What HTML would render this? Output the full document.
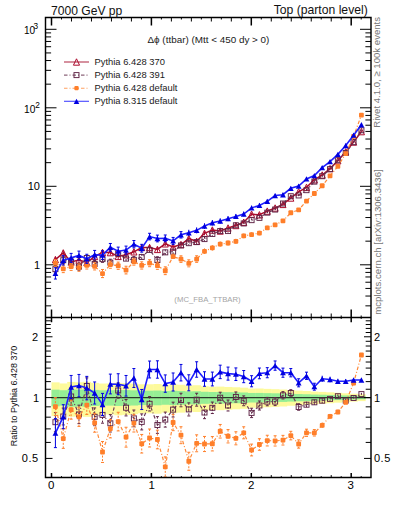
<!DOCTYPE html><html><head><meta charset="utf-8"><style>html,body{margin:0;padding:0;background:#fff}svg{display:block}text{font-family:"Liberation Sans",sans-serif}</style></head><body>
<svg width="393" height="512" viewBox="0 0 393 512">
<rect width="393" height="512" fill="#fff"/>
<g fill="#fdfa9c"><rect x="51.50" y="382.34" width="8.15" height="33.75"/><rect x="59.35" y="383.46" width="8.15" height="31.01"/><rect x="67.19" y="381.92" width="8.15" height="34.79"/><rect x="75.04" y="382.25" width="8.15" height="33.96"/><rect x="82.88" y="381.83" width="8.15" height="35.01"/><rect x="90.73" y="382.87" width="8.15" height="32.45"/><rect x="98.58" y="383.54" width="8.15" height="30.82"/><rect x="106.42" y="383.50" width="8.15" height="30.90"/><rect x="114.27" y="382.88" width="8.15" height="32.41"/><rect x="122.12" y="383.16" width="8.15" height="31.72"/><rect x="129.96" y="383.63" width="8.15" height="30.59"/><rect x="137.81" y="384.30" width="8.15" height="28.98"/><rect x="145.65" y="384.30" width="8.15" height="28.98"/><rect x="153.50" y="384.01" width="8.15" height="29.68"/><rect x="161.35" y="384.85" width="8.15" height="27.67"/><rect x="169.19" y="384.38" width="8.15" height="28.80"/><rect x="177.04" y="384.75" width="8.15" height="27.91"/><rect x="184.88" y="385.59" width="8.15" height="25.92"/><rect x="192.73" y="385.21" width="8.15" height="26.81"/><rect x="200.58" y="386.30" width="8.15" height="24.26"/><rect x="208.42" y="386.73" width="8.15" height="23.29"/><rect x="216.27" y="386.60" width="8.15" height="23.58"/><rect x="224.11" y="386.98" width="8.15" height="22.71"/><rect x="231.96" y="387.28" width="8.15" height="22.02"/><rect x="239.81" y="387.67" width="8.15" height="21.13"/><rect x="247.65" y="388.56" width="8.15" height="19.13"/><rect x="255.50" y="388.49" width="8.15" height="19.27"/><rect x="263.35" y="388.88" width="8.15" height="18.41"/><rect x="271.19" y="389.19" width="8.15" height="17.71"/><rect x="279.04" y="389.54" width="8.15" height="16.94"/><rect x="286.88" y="390.12" width="8.15" height="15.65"/><rect x="294.73" y="390.65" width="8.15" height="14.49"/><rect x="302.58" y="391.01" width="8.15" height="13.72"/><rect x="310.42" y="391.58" width="8.15" height="12.49"/><rect x="318.27" y="391.91" width="8.15" height="11.77"/><rect x="326.11" y="392.33" width="8.15" height="10.88"/><rect x="333.96" y="392.80" width="8.15" height="9.87"/><rect x="341.81" y="393.29" width="8.15" height="8.84"/><rect x="349.65" y="393.77" width="8.15" height="7.83"/><rect x="357.50" y="394.22" width="8.15" height="6.89"/></g>
<g fill="#95ee95"><rect x="51.50" y="389.64" width="8.15" height="16.72"/><rect x="59.35" y="390.24" width="8.15" height="15.39"/><rect x="67.19" y="389.41" width="8.15" height="17.22"/><rect x="75.04" y="389.59" width="8.15" height="16.82"/><rect x="82.88" y="389.36" width="8.15" height="17.33"/><rect x="90.73" y="389.92" width="8.15" height="16.09"/><rect x="98.58" y="390.29" width="8.15" height="15.29"/><rect x="106.42" y="390.27" width="8.15" height="15.33"/><rect x="114.27" y="389.93" width="8.15" height="16.07"/><rect x="122.12" y="390.09" width="8.15" height="15.73"/><rect x="129.96" y="390.34" width="8.15" height="15.18"/><rect x="137.81" y="390.70" width="8.15" height="14.39"/><rect x="145.65" y="390.70" width="8.15" height="14.39"/><rect x="153.50" y="390.54" width="8.15" height="14.73"/><rect x="161.35" y="391.00" width="8.15" height="13.75"/><rect x="169.19" y="390.74" width="8.15" height="14.30"/><rect x="177.04" y="390.94" width="8.15" height="13.87"/><rect x="184.88" y="391.39" width="8.15" height="12.89"/><rect x="192.73" y="391.19" width="8.15" height="13.33"/><rect x="200.58" y="391.77" width="8.15" height="12.07"/><rect x="208.42" y="392.00" width="8.15" height="11.59"/><rect x="216.27" y="391.93" width="8.15" height="11.74"/><rect x="224.11" y="392.13" width="8.15" height="11.31"/><rect x="231.96" y="392.29" width="8.15" height="10.96"/><rect x="239.81" y="392.49" width="8.15" height="10.53"/><rect x="247.65" y="392.96" width="8.15" height="9.54"/><rect x="255.50" y="392.93" width="8.15" height="9.61"/><rect x="263.35" y="393.13" width="8.15" height="9.18"/><rect x="271.19" y="393.29" width="8.15" height="8.83"/><rect x="279.04" y="393.48" width="8.15" height="8.45"/><rect x="286.88" y="393.78" width="8.15" height="7.81"/><rect x="294.73" y="394.06" width="8.15" height="7.23"/><rect x="302.58" y="394.24" width="8.15" height="6.85"/><rect x="310.42" y="394.54" width="8.15" height="6.24"/><rect x="318.27" y="394.71" width="8.15" height="5.88"/><rect x="326.11" y="394.92" width="8.15" height="5.43"/><rect x="333.96" y="395.17" width="8.15" height="4.93"/><rect x="341.81" y="395.42" width="8.15" height="4.42"/><rect x="349.65" y="395.66" width="8.15" height="3.92"/><rect x="357.50" y="395.89" width="8.15" height="3.44"/></g>
<line x1="51.5" y1="397.6" x2="371.0" y2="397.6" stroke="#2a3a2a" stroke-width="1.3"/>
<g stroke-linecap="butt"><line x1="51.50" y1="17.50" x2="51.50" y2="25.50" stroke="#000" stroke-width="1.5"/><line x1="51.50" y1="317.50" x2="51.50" y2="309.50" stroke="#000" stroke-width="1.5"/><line x1="51.50" y1="317.50" x2="51.50" y2="322.25" stroke="#000" stroke-width="1.5"/><line x1="51.50" y1="477.50" x2="51.50" y2="473.00" stroke="#000" stroke-width="1.5"/><line x1="61.49" y1="17.50" x2="61.49" y2="19.50" stroke="#000" stroke-width="1.0"/><line x1="61.49" y1="317.50" x2="61.49" y2="315.50" stroke="#000" stroke-width="1.0"/><line x1="61.49" y1="317.50" x2="61.49" y2="318.93" stroke="#000" stroke-width="1.0"/><line x1="61.49" y1="477.50" x2="61.49" y2="476.15" stroke="#000" stroke-width="1.0"/><line x1="71.48" y1="17.50" x2="71.48" y2="21.50" stroke="#000" stroke-width="1.0"/><line x1="71.48" y1="317.50" x2="71.48" y2="313.50" stroke="#000" stroke-width="1.0"/><line x1="71.48" y1="317.50" x2="71.48" y2="320.06" stroke="#000" stroke-width="1.0"/><line x1="71.48" y1="477.50" x2="71.48" y2="475.07" stroke="#000" stroke-width="1.0"/><line x1="81.47" y1="17.50" x2="81.47" y2="19.50" stroke="#000" stroke-width="1.0"/><line x1="81.47" y1="317.50" x2="81.47" y2="315.50" stroke="#000" stroke-width="1.0"/><line x1="81.47" y1="317.50" x2="81.47" y2="318.93" stroke="#000" stroke-width="1.0"/><line x1="81.47" y1="477.50" x2="81.47" y2="476.15" stroke="#000" stroke-width="1.0"/><line x1="91.46" y1="17.50" x2="91.46" y2="21.50" stroke="#000" stroke-width="1.0"/><line x1="91.46" y1="317.50" x2="91.46" y2="313.50" stroke="#000" stroke-width="1.0"/><line x1="91.46" y1="317.50" x2="91.46" y2="320.06" stroke="#000" stroke-width="1.0"/><line x1="91.46" y1="477.50" x2="91.46" y2="475.07" stroke="#000" stroke-width="1.0"/><line x1="101.45" y1="17.50" x2="101.45" y2="19.50" stroke="#000" stroke-width="1.0"/><line x1="101.45" y1="317.50" x2="101.45" y2="315.50" stroke="#000" stroke-width="1.0"/><line x1="101.45" y1="317.50" x2="101.45" y2="318.93" stroke="#000" stroke-width="1.0"/><line x1="101.45" y1="477.50" x2="101.45" y2="476.15" stroke="#000" stroke-width="1.0"/><line x1="111.44" y1="17.50" x2="111.44" y2="21.50" stroke="#000" stroke-width="1.0"/><line x1="111.44" y1="317.50" x2="111.44" y2="313.50" stroke="#000" stroke-width="1.0"/><line x1="111.44" y1="317.50" x2="111.44" y2="320.06" stroke="#000" stroke-width="1.0"/><line x1="111.44" y1="477.50" x2="111.44" y2="475.07" stroke="#000" stroke-width="1.0"/><line x1="121.43" y1="17.50" x2="121.43" y2="19.50" stroke="#000" stroke-width="1.0"/><line x1="121.43" y1="317.50" x2="121.43" y2="315.50" stroke="#000" stroke-width="1.0"/><line x1="121.43" y1="317.50" x2="121.43" y2="318.93" stroke="#000" stroke-width="1.0"/><line x1="121.43" y1="477.50" x2="121.43" y2="476.15" stroke="#000" stroke-width="1.0"/><line x1="131.42" y1="17.50" x2="131.42" y2="21.50" stroke="#000" stroke-width="1.0"/><line x1="131.42" y1="317.50" x2="131.42" y2="313.50" stroke="#000" stroke-width="1.0"/><line x1="131.42" y1="317.50" x2="131.42" y2="320.06" stroke="#000" stroke-width="1.0"/><line x1="131.42" y1="477.50" x2="131.42" y2="475.07" stroke="#000" stroke-width="1.0"/><line x1="141.41" y1="17.50" x2="141.41" y2="19.50" stroke="#000" stroke-width="1.0"/><line x1="141.41" y1="317.50" x2="141.41" y2="315.50" stroke="#000" stroke-width="1.0"/><line x1="141.41" y1="317.50" x2="141.41" y2="318.93" stroke="#000" stroke-width="1.0"/><line x1="141.41" y1="477.50" x2="141.41" y2="476.15" stroke="#000" stroke-width="1.0"/><line x1="151.40" y1="17.50" x2="151.40" y2="25.50" stroke="#000" stroke-width="1.5"/><line x1="151.40" y1="317.50" x2="151.40" y2="309.50" stroke="#000" stroke-width="1.5"/><line x1="151.40" y1="317.50" x2="151.40" y2="322.25" stroke="#000" stroke-width="1.5"/><line x1="151.40" y1="477.50" x2="151.40" y2="473.00" stroke="#000" stroke-width="1.5"/><line x1="161.39" y1="17.50" x2="161.39" y2="19.50" stroke="#000" stroke-width="1.0"/><line x1="161.39" y1="317.50" x2="161.39" y2="315.50" stroke="#000" stroke-width="1.0"/><line x1="161.39" y1="317.50" x2="161.39" y2="318.93" stroke="#000" stroke-width="1.0"/><line x1="161.39" y1="477.50" x2="161.39" y2="476.15" stroke="#000" stroke-width="1.0"/><line x1="171.38" y1="17.50" x2="171.38" y2="21.50" stroke="#000" stroke-width="1.0"/><line x1="171.38" y1="317.50" x2="171.38" y2="313.50" stroke="#000" stroke-width="1.0"/><line x1="171.38" y1="317.50" x2="171.38" y2="320.06" stroke="#000" stroke-width="1.0"/><line x1="171.38" y1="477.50" x2="171.38" y2="475.07" stroke="#000" stroke-width="1.0"/><line x1="181.37" y1="17.50" x2="181.37" y2="19.50" stroke="#000" stroke-width="1.0"/><line x1="181.37" y1="317.50" x2="181.37" y2="315.50" stroke="#000" stroke-width="1.0"/><line x1="181.37" y1="317.50" x2="181.37" y2="318.93" stroke="#000" stroke-width="1.0"/><line x1="181.37" y1="477.50" x2="181.37" y2="476.15" stroke="#000" stroke-width="1.0"/><line x1="191.36" y1="17.50" x2="191.36" y2="21.50" stroke="#000" stroke-width="1.0"/><line x1="191.36" y1="317.50" x2="191.36" y2="313.50" stroke="#000" stroke-width="1.0"/><line x1="191.36" y1="317.50" x2="191.36" y2="320.06" stroke="#000" stroke-width="1.0"/><line x1="191.36" y1="477.50" x2="191.36" y2="475.07" stroke="#000" stroke-width="1.0"/><line x1="201.35" y1="17.50" x2="201.35" y2="19.50" stroke="#000" stroke-width="1.0"/><line x1="201.35" y1="317.50" x2="201.35" y2="315.50" stroke="#000" stroke-width="1.0"/><line x1="201.35" y1="317.50" x2="201.35" y2="318.93" stroke="#000" stroke-width="1.0"/><line x1="201.35" y1="477.50" x2="201.35" y2="476.15" stroke="#000" stroke-width="1.0"/><line x1="211.34" y1="17.50" x2="211.34" y2="21.50" stroke="#000" stroke-width="1.0"/><line x1="211.34" y1="317.50" x2="211.34" y2="313.50" stroke="#000" stroke-width="1.0"/><line x1="211.34" y1="317.50" x2="211.34" y2="320.06" stroke="#000" stroke-width="1.0"/><line x1="211.34" y1="477.50" x2="211.34" y2="475.07" stroke="#000" stroke-width="1.0"/><line x1="221.33" y1="17.50" x2="221.33" y2="19.50" stroke="#000" stroke-width="1.0"/><line x1="221.33" y1="317.50" x2="221.33" y2="315.50" stroke="#000" stroke-width="1.0"/><line x1="221.33" y1="317.50" x2="221.33" y2="318.93" stroke="#000" stroke-width="1.0"/><line x1="221.33" y1="477.50" x2="221.33" y2="476.15" stroke="#000" stroke-width="1.0"/><line x1="231.32" y1="17.50" x2="231.32" y2="21.50" stroke="#000" stroke-width="1.0"/><line x1="231.32" y1="317.50" x2="231.32" y2="313.50" stroke="#000" stroke-width="1.0"/><line x1="231.32" y1="317.50" x2="231.32" y2="320.06" stroke="#000" stroke-width="1.0"/><line x1="231.32" y1="477.50" x2="231.32" y2="475.07" stroke="#000" stroke-width="1.0"/><line x1="241.31" y1="17.50" x2="241.31" y2="19.50" stroke="#000" stroke-width="1.0"/><line x1="241.31" y1="317.50" x2="241.31" y2="315.50" stroke="#000" stroke-width="1.0"/><line x1="241.31" y1="317.50" x2="241.31" y2="318.93" stroke="#000" stroke-width="1.0"/><line x1="241.31" y1="477.50" x2="241.31" y2="476.15" stroke="#000" stroke-width="1.0"/><line x1="251.30" y1="17.50" x2="251.30" y2="25.50" stroke="#000" stroke-width="1.5"/><line x1="251.30" y1="317.50" x2="251.30" y2="309.50" stroke="#000" stroke-width="1.5"/><line x1="251.30" y1="317.50" x2="251.30" y2="322.25" stroke="#000" stroke-width="1.5"/><line x1="251.30" y1="477.50" x2="251.30" y2="473.00" stroke="#000" stroke-width="1.5"/><line x1="261.29" y1="17.50" x2="261.29" y2="19.50" stroke="#000" stroke-width="1.0"/><line x1="261.29" y1="317.50" x2="261.29" y2="315.50" stroke="#000" stroke-width="1.0"/><line x1="261.29" y1="317.50" x2="261.29" y2="318.93" stroke="#000" stroke-width="1.0"/><line x1="261.29" y1="477.50" x2="261.29" y2="476.15" stroke="#000" stroke-width="1.0"/><line x1="271.28" y1="17.50" x2="271.28" y2="21.50" stroke="#000" stroke-width="1.0"/><line x1="271.28" y1="317.50" x2="271.28" y2="313.50" stroke="#000" stroke-width="1.0"/><line x1="271.28" y1="317.50" x2="271.28" y2="320.06" stroke="#000" stroke-width="1.0"/><line x1="271.28" y1="477.50" x2="271.28" y2="475.07" stroke="#000" stroke-width="1.0"/><line x1="281.27" y1="17.50" x2="281.27" y2="19.50" stroke="#000" stroke-width="1.0"/><line x1="281.27" y1="317.50" x2="281.27" y2="315.50" stroke="#000" stroke-width="1.0"/><line x1="281.27" y1="317.50" x2="281.27" y2="318.93" stroke="#000" stroke-width="1.0"/><line x1="281.27" y1="477.50" x2="281.27" y2="476.15" stroke="#000" stroke-width="1.0"/><line x1="291.26" y1="17.50" x2="291.26" y2="21.50" stroke="#000" stroke-width="1.0"/><line x1="291.26" y1="317.50" x2="291.26" y2="313.50" stroke="#000" stroke-width="1.0"/><line x1="291.26" y1="317.50" x2="291.26" y2="320.06" stroke="#000" stroke-width="1.0"/><line x1="291.26" y1="477.50" x2="291.26" y2="475.07" stroke="#000" stroke-width="1.0"/><line x1="301.25" y1="17.50" x2="301.25" y2="19.50" stroke="#000" stroke-width="1.0"/><line x1="301.25" y1="317.50" x2="301.25" y2="315.50" stroke="#000" stroke-width="1.0"/><line x1="301.25" y1="317.50" x2="301.25" y2="318.93" stroke="#000" stroke-width="1.0"/><line x1="301.25" y1="477.50" x2="301.25" y2="476.15" stroke="#000" stroke-width="1.0"/><line x1="311.24" y1="17.50" x2="311.24" y2="21.50" stroke="#000" stroke-width="1.0"/><line x1="311.24" y1="317.50" x2="311.24" y2="313.50" stroke="#000" stroke-width="1.0"/><line x1="311.24" y1="317.50" x2="311.24" y2="320.06" stroke="#000" stroke-width="1.0"/><line x1="311.24" y1="477.50" x2="311.24" y2="475.07" stroke="#000" stroke-width="1.0"/><line x1="321.23" y1="17.50" x2="321.23" y2="19.50" stroke="#000" stroke-width="1.0"/><line x1="321.23" y1="317.50" x2="321.23" y2="315.50" stroke="#000" stroke-width="1.0"/><line x1="321.23" y1="317.50" x2="321.23" y2="318.93" stroke="#000" stroke-width="1.0"/><line x1="321.23" y1="477.50" x2="321.23" y2="476.15" stroke="#000" stroke-width="1.0"/><line x1="331.22" y1="17.50" x2="331.22" y2="21.50" stroke="#000" stroke-width="1.0"/><line x1="331.22" y1="317.50" x2="331.22" y2="313.50" stroke="#000" stroke-width="1.0"/><line x1="331.22" y1="317.50" x2="331.22" y2="320.06" stroke="#000" stroke-width="1.0"/><line x1="331.22" y1="477.50" x2="331.22" y2="475.07" stroke="#000" stroke-width="1.0"/><line x1="341.21" y1="17.50" x2="341.21" y2="19.50" stroke="#000" stroke-width="1.0"/><line x1="341.21" y1="317.50" x2="341.21" y2="315.50" stroke="#000" stroke-width="1.0"/><line x1="341.21" y1="317.50" x2="341.21" y2="318.93" stroke="#000" stroke-width="1.0"/><line x1="341.21" y1="477.50" x2="341.21" y2="476.15" stroke="#000" stroke-width="1.0"/><line x1="351.20" y1="17.50" x2="351.20" y2="25.50" stroke="#000" stroke-width="1.5"/><line x1="351.20" y1="317.50" x2="351.20" y2="309.50" stroke="#000" stroke-width="1.5"/><line x1="351.20" y1="317.50" x2="351.20" y2="322.25" stroke="#000" stroke-width="1.5"/><line x1="351.20" y1="477.50" x2="351.20" y2="473.00" stroke="#000" stroke-width="1.5"/><line x1="361.19" y1="17.50" x2="361.19" y2="19.50" stroke="#000" stroke-width="1.0"/><line x1="361.19" y1="317.50" x2="361.19" y2="315.50" stroke="#000" stroke-width="1.0"/><line x1="361.19" y1="317.50" x2="361.19" y2="318.93" stroke="#000" stroke-width="1.0"/><line x1="361.19" y1="477.50" x2="361.19" y2="476.15" stroke="#000" stroke-width="1.0"/><line x1="45.50" y1="305.85" x2="51.10" y2="305.85" stroke="#000" stroke-width="1.0"/><line x1="371.00" y1="305.85" x2="365.40" y2="305.85" stroke="#000" stroke-width="1.0"/><line x1="45.50" y1="296.04" x2="51.10" y2="296.04" stroke="#000" stroke-width="1.0"/><line x1="371.00" y1="296.04" x2="365.40" y2="296.04" stroke="#000" stroke-width="1.0"/><line x1="45.50" y1="288.43" x2="51.10" y2="288.43" stroke="#000" stroke-width="1.0"/><line x1="371.00" y1="288.43" x2="365.40" y2="288.43" stroke="#000" stroke-width="1.0"/><line x1="45.50" y1="282.22" x2="51.10" y2="282.22" stroke="#000" stroke-width="1.0"/><line x1="371.00" y1="282.22" x2="365.40" y2="282.22" stroke="#000" stroke-width="1.0"/><line x1="45.50" y1="276.96" x2="51.10" y2="276.96" stroke="#000" stroke-width="1.0"/><line x1="371.00" y1="276.96" x2="365.40" y2="276.96" stroke="#000" stroke-width="1.0"/><line x1="45.50" y1="272.41" x2="51.10" y2="272.41" stroke="#000" stroke-width="1.0"/><line x1="371.00" y1="272.41" x2="365.40" y2="272.41" stroke="#000" stroke-width="1.0"/><line x1="45.50" y1="268.39" x2="51.10" y2="268.39" stroke="#000" stroke-width="1.0"/><line x1="371.00" y1="268.39" x2="365.40" y2="268.39" stroke="#000" stroke-width="1.0"/><line x1="45.50" y1="264.80" x2="56.50" y2="264.80" stroke="#000" stroke-width="1.0"/><line x1="371.00" y1="264.80" x2="360.00" y2="264.80" stroke="#000" stroke-width="1.0"/><line x1="45.50" y1="241.17" x2="51.10" y2="241.17" stroke="#000" stroke-width="1.0"/><line x1="371.00" y1="241.17" x2="365.40" y2="241.17" stroke="#000" stroke-width="1.0"/><line x1="45.50" y1="227.35" x2="51.10" y2="227.35" stroke="#000" stroke-width="1.0"/><line x1="371.00" y1="227.35" x2="365.40" y2="227.35" stroke="#000" stroke-width="1.0"/><line x1="45.50" y1="217.54" x2="51.10" y2="217.54" stroke="#000" stroke-width="1.0"/><line x1="371.00" y1="217.54" x2="365.40" y2="217.54" stroke="#000" stroke-width="1.0"/><line x1="45.50" y1="209.93" x2="51.10" y2="209.93" stroke="#000" stroke-width="1.0"/><line x1="371.00" y1="209.93" x2="365.40" y2="209.93" stroke="#000" stroke-width="1.0"/><line x1="45.50" y1="203.72" x2="51.10" y2="203.72" stroke="#000" stroke-width="1.0"/><line x1="371.00" y1="203.72" x2="365.40" y2="203.72" stroke="#000" stroke-width="1.0"/><line x1="45.50" y1="198.46" x2="51.10" y2="198.46" stroke="#000" stroke-width="1.0"/><line x1="371.00" y1="198.46" x2="365.40" y2="198.46" stroke="#000" stroke-width="1.0"/><line x1="45.50" y1="193.91" x2="51.10" y2="193.91" stroke="#000" stroke-width="1.0"/><line x1="371.00" y1="193.91" x2="365.40" y2="193.91" stroke="#000" stroke-width="1.0"/><line x1="45.50" y1="189.89" x2="51.10" y2="189.89" stroke="#000" stroke-width="1.0"/><line x1="371.00" y1="189.89" x2="365.40" y2="189.89" stroke="#000" stroke-width="1.0"/><line x1="45.50" y1="186.30" x2="56.50" y2="186.30" stroke="#000" stroke-width="1.0"/><line x1="371.00" y1="186.30" x2="360.00" y2="186.30" stroke="#000" stroke-width="1.0"/><line x1="45.50" y1="162.67" x2="51.10" y2="162.67" stroke="#000" stroke-width="1.0"/><line x1="371.00" y1="162.67" x2="365.40" y2="162.67" stroke="#000" stroke-width="1.0"/><line x1="45.50" y1="148.85" x2="51.10" y2="148.85" stroke="#000" stroke-width="1.0"/><line x1="371.00" y1="148.85" x2="365.40" y2="148.85" stroke="#000" stroke-width="1.0"/><line x1="45.50" y1="139.04" x2="51.10" y2="139.04" stroke="#000" stroke-width="1.0"/><line x1="371.00" y1="139.04" x2="365.40" y2="139.04" stroke="#000" stroke-width="1.0"/><line x1="45.50" y1="131.43" x2="51.10" y2="131.43" stroke="#000" stroke-width="1.0"/><line x1="371.00" y1="131.43" x2="365.40" y2="131.43" stroke="#000" stroke-width="1.0"/><line x1="45.50" y1="125.22" x2="51.10" y2="125.22" stroke="#000" stroke-width="1.0"/><line x1="371.00" y1="125.22" x2="365.40" y2="125.22" stroke="#000" stroke-width="1.0"/><line x1="45.50" y1="119.96" x2="51.10" y2="119.96" stroke="#000" stroke-width="1.0"/><line x1="371.00" y1="119.96" x2="365.40" y2="119.96" stroke="#000" stroke-width="1.0"/><line x1="45.50" y1="115.41" x2="51.10" y2="115.41" stroke="#000" stroke-width="1.0"/><line x1="371.00" y1="115.41" x2="365.40" y2="115.41" stroke="#000" stroke-width="1.0"/><line x1="45.50" y1="111.39" x2="51.10" y2="111.39" stroke="#000" stroke-width="1.0"/><line x1="371.00" y1="111.39" x2="365.40" y2="111.39" stroke="#000" stroke-width="1.0"/><line x1="45.50" y1="107.80" x2="56.50" y2="107.80" stroke="#000" stroke-width="1.0"/><line x1="371.00" y1="107.80" x2="360.00" y2="107.80" stroke="#000" stroke-width="1.0"/><line x1="45.50" y1="84.17" x2="51.10" y2="84.17" stroke="#000" stroke-width="1.0"/><line x1="371.00" y1="84.17" x2="365.40" y2="84.17" stroke="#000" stroke-width="1.0"/><line x1="45.50" y1="70.35" x2="51.10" y2="70.35" stroke="#000" stroke-width="1.0"/><line x1="371.00" y1="70.35" x2="365.40" y2="70.35" stroke="#000" stroke-width="1.0"/><line x1="45.50" y1="60.54" x2="51.10" y2="60.54" stroke="#000" stroke-width="1.0"/><line x1="371.00" y1="60.54" x2="365.40" y2="60.54" stroke="#000" stroke-width="1.0"/><line x1="45.50" y1="52.93" x2="51.10" y2="52.93" stroke="#000" stroke-width="1.0"/><line x1="371.00" y1="52.93" x2="365.40" y2="52.93" stroke="#000" stroke-width="1.0"/><line x1="45.50" y1="46.72" x2="51.10" y2="46.72" stroke="#000" stroke-width="1.0"/><line x1="371.00" y1="46.72" x2="365.40" y2="46.72" stroke="#000" stroke-width="1.0"/><line x1="45.50" y1="41.46" x2="51.10" y2="41.46" stroke="#000" stroke-width="1.0"/><line x1="371.00" y1="41.46" x2="365.40" y2="41.46" stroke="#000" stroke-width="1.0"/><line x1="45.50" y1="36.91" x2="51.10" y2="36.91" stroke="#000" stroke-width="1.0"/><line x1="371.00" y1="36.91" x2="365.40" y2="36.91" stroke="#000" stroke-width="1.0"/><line x1="45.50" y1="32.89" x2="51.10" y2="32.89" stroke="#000" stroke-width="1.0"/><line x1="371.00" y1="32.89" x2="365.40" y2="32.89" stroke="#000" stroke-width="1.0"/><line x1="45.50" y1="29.30" x2="56.50" y2="29.30" stroke="#000" stroke-width="1.0"/><line x1="371.00" y1="29.30" x2="360.00" y2="29.30" stroke="#000" stroke-width="1.0"/><line x1="45.50" y1="458.41" x2="52.50" y2="458.41" stroke="#000" stroke-width="1.0"/><line x1="371.00" y1="458.41" x2="364.00" y2="458.41" stroke="#000" stroke-width="1.0"/><line x1="45.50" y1="442.41" x2="50.80" y2="442.41" stroke="#000" stroke-width="1.0"/><line x1="371.00" y1="442.41" x2="365.70" y2="442.41" stroke="#000" stroke-width="1.0"/><line x1="45.50" y1="428.89" x2="50.80" y2="428.89" stroke="#000" stroke-width="1.0"/><line x1="371.00" y1="428.89" x2="365.70" y2="428.89" stroke="#000" stroke-width="1.0"/><line x1="45.50" y1="417.18" x2="50.80" y2="417.18" stroke="#000" stroke-width="1.0"/><line x1="371.00" y1="417.18" x2="365.70" y2="417.18" stroke="#000" stroke-width="1.0"/><line x1="45.50" y1="406.84" x2="50.80" y2="406.84" stroke="#000" stroke-width="1.0"/><line x1="371.00" y1="406.84" x2="365.70" y2="406.84" stroke="#000" stroke-width="1.0"/><line x1="45.50" y1="397.60" x2="52.50" y2="397.60" stroke="#000" stroke-width="1.0"/><line x1="371.00" y1="397.60" x2="364.00" y2="397.60" stroke="#000" stroke-width="1.0"/><line x1="45.50" y1="389.24" x2="50.80" y2="389.24" stroke="#000" stroke-width="1.0"/><line x1="371.00" y1="389.24" x2="365.70" y2="389.24" stroke="#000" stroke-width="1.0"/><line x1="45.50" y1="381.61" x2="50.80" y2="381.61" stroke="#000" stroke-width="1.0"/><line x1="371.00" y1="381.61" x2="365.70" y2="381.61" stroke="#000" stroke-width="1.0"/><line x1="45.50" y1="374.58" x2="50.80" y2="374.58" stroke="#000" stroke-width="1.0"/><line x1="371.00" y1="374.58" x2="365.70" y2="374.58" stroke="#000" stroke-width="1.0"/><line x1="45.50" y1="368.08" x2="50.80" y2="368.08" stroke="#000" stroke-width="1.0"/><line x1="371.00" y1="368.08" x2="365.70" y2="368.08" stroke="#000" stroke-width="1.0"/><line x1="45.50" y1="362.03" x2="50.80" y2="362.03" stroke="#000" stroke-width="1.0"/><line x1="371.00" y1="362.03" x2="365.70" y2="362.03" stroke="#000" stroke-width="1.0"/><line x1="45.50" y1="356.37" x2="50.80" y2="356.37" stroke="#000" stroke-width="1.0"/><line x1="371.00" y1="356.37" x2="365.70" y2="356.37" stroke="#000" stroke-width="1.0"/><line x1="45.50" y1="351.05" x2="50.80" y2="351.05" stroke="#000" stroke-width="1.0"/><line x1="371.00" y1="351.05" x2="365.70" y2="351.05" stroke="#000" stroke-width="1.0"/><line x1="45.50" y1="346.03" x2="50.80" y2="346.03" stroke="#000" stroke-width="1.0"/><line x1="371.00" y1="346.03" x2="365.70" y2="346.03" stroke="#000" stroke-width="1.0"/><line x1="45.50" y1="341.29" x2="50.80" y2="341.29" stroke="#000" stroke-width="1.0"/><line x1="371.00" y1="341.29" x2="365.70" y2="341.29" stroke="#000" stroke-width="1.0"/><line x1="45.50" y1="336.79" x2="52.50" y2="336.79" stroke="#000" stroke-width="1.0"/><line x1="371.00" y1="336.79" x2="364.00" y2="336.79" stroke="#000" stroke-width="1.0"/><line x1="45.50" y1="332.51" x2="50.80" y2="332.51" stroke="#000" stroke-width="1.0"/><line x1="371.00" y1="332.51" x2="365.70" y2="332.51" stroke="#000" stroke-width="1.0"/><line x1="45.50" y1="328.43" x2="50.80" y2="328.43" stroke="#000" stroke-width="1.0"/><line x1="371.00" y1="328.43" x2="365.70" y2="328.43" stroke="#000" stroke-width="1.0"/><line x1="45.50" y1="324.53" x2="50.80" y2="324.53" stroke="#000" stroke-width="1.0"/><line x1="371.00" y1="324.53" x2="365.70" y2="324.53" stroke="#000" stroke-width="1.0"/><line x1="45.50" y1="320.80" x2="50.80" y2="320.80" stroke="#000" stroke-width="1.0"/><line x1="371.00" y1="320.80" x2="365.70" y2="320.80" stroke="#000" stroke-width="1.0"/></g>
<svg x="0" y="0" width="393" height="512"><clipPath id="cu"><rect x="46" y="18" width="325" height="299"/></clipPath><clipPath id="cr"><rect x="46" y="318" width="325" height="159"/></clipPath>
<g clip-path="url(#cu)">
<polyline points="55.42,259.60 63.27,252.90 71.12,262.00 78.96,260.10 86.81,262.50 94.65,256.50 102.50,252.40 110.35,252.60 118.19,256.40 126.04,254.70 133.88,251.80 141.73,247.50 149.58,247.50 157.42,249.40 165.27,243.80 173.11,247.00 180.96,244.50 188.81,238.60 196.65,241.30 204.50,233.30 212.35,230.00 220.19,231.00 228.04,228.00 235.88,225.50 243.73,222.20 251.58,214.20 259.42,214.80 267.27,211.10 275.11,208.00 282.96,204.40 290.81,198.00 298.65,191.80 306.50,187.40 314.35,179.80 322.19,175.00 330.04,168.60 337.88,160.70 345.73,151.80 353.58,142.00 361.42,131.60" fill="none" stroke="#a8102e" stroke-width="1.5"/><path d="M55.42 256.65V262.55M63.27 250.22V255.58M71.12 258.94V265.06M78.96 257.13V263.07M86.81 259.42V265.58M94.65 253.68V259.32M102.50 249.74V255.06M110.35 249.94V255.26M118.19 253.58V259.22M126.04 251.95V257.45M133.88 249.17V254.43M141.73 245.03V249.97M149.58 245.03V249.97M157.42 246.86V251.94M165.27 241.46V246.14M173.11 244.55V249.45M180.96 242.13V246.87M188.81 236.43V240.77M196.65 239.04V243.56M204.50 231.29V235.31M212.35 228.09V231.91M220.19 229.06V232.94M228.04 226.14V229.86M235.88 223.71V227.29M243.73 220.49V223.91M251.58 212.68V215.72M259.42 213.27V216.33M267.27 209.65V212.55M275.11 206.61V209.39M282.96 203.09V205.71M290.81 196.80V199.20M298.65 190.71V192.89M306.50 186.38V188.42M314.35 178.88V180.72M322.19 174.15V175.85M330.04 167.82V169.38M337.88 160.01V161.39M345.73 151.19V152.41M353.58 141.47V142.53M361.42 131.15V132.05" stroke="#ac0a2c" stroke-width="1.0" fill="none"/><path d="" stroke="#ac0a2c" stroke-width="1.0" fill="none"/><polygon points="55.42,256.40 58.47,262.80 52.37,262.80" fill="none" stroke="#ac0a2c" stroke-width="1"/><polygon points="63.27,249.70 66.32,256.10 60.22,256.10" fill="none" stroke="#ac0a2c" stroke-width="1"/><polygon points="71.12,258.80 74.17,265.20 68.07,265.20" fill="none" stroke="#ac0a2c" stroke-width="1"/><polygon points="78.96,256.90 82.01,263.30 75.91,263.30" fill="none" stroke="#ac0a2c" stroke-width="1"/><polygon points="86.81,259.30 89.86,265.70 83.76,265.70" fill="none" stroke="#ac0a2c" stroke-width="1"/><polygon points="94.65,253.30 97.70,259.70 91.60,259.70" fill="none" stroke="#ac0a2c" stroke-width="1"/><polygon points="102.50,249.20 105.55,255.60 99.45,255.60" fill="none" stroke="#ac0a2c" stroke-width="1"/><polygon points="110.35,249.40 113.40,255.80 107.30,255.80" fill="none" stroke="#ac0a2c" stroke-width="1"/><polygon points="118.19,253.20 121.24,259.60 115.14,259.60" fill="none" stroke="#ac0a2c" stroke-width="1"/><polygon points="126.04,251.50 129.09,257.90 122.99,257.90" fill="none" stroke="#ac0a2c" stroke-width="1"/><polygon points="133.88,248.60 136.93,255.00 130.83,255.00" fill="none" stroke="#ac0a2c" stroke-width="1"/><polygon points="141.73,244.30 144.78,250.70 138.68,250.70" fill="none" stroke="#ac0a2c" stroke-width="1"/><polygon points="149.58,244.30 152.63,250.70 146.53,250.70" fill="none" stroke="#ac0a2c" stroke-width="1"/><polygon points="157.42,246.20 160.47,252.60 154.37,252.60" fill="none" stroke="#ac0a2c" stroke-width="1"/><polygon points="165.27,240.60 168.32,247.00 162.22,247.00" fill="none" stroke="#ac0a2c" stroke-width="1"/><polygon points="173.11,243.80 176.16,250.20 170.06,250.20" fill="none" stroke="#ac0a2c" stroke-width="1"/><polygon points="180.96,241.30 184.01,247.70 177.91,247.70" fill="none" stroke="#ac0a2c" stroke-width="1"/><polygon points="188.81,235.40 191.86,241.80 185.76,241.80" fill="none" stroke="#ac0a2c" stroke-width="1"/><polygon points="196.65,238.10 199.70,244.50 193.60,244.50" fill="none" stroke="#ac0a2c" stroke-width="1"/><polygon points="204.50,230.10 207.55,236.50 201.45,236.50" fill="none" stroke="#ac0a2c" stroke-width="1"/><polygon points="212.35,226.80 215.40,233.20 209.30,233.20" fill="none" stroke="#ac0a2c" stroke-width="1"/><polygon points="220.19,227.80 223.24,234.20 217.14,234.20" fill="none" stroke="#ac0a2c" stroke-width="1"/><polygon points="228.04,224.80 231.09,231.20 224.99,231.20" fill="none" stroke="#ac0a2c" stroke-width="1"/><polygon points="235.88,222.30 238.93,228.70 232.83,228.70" fill="none" stroke="#ac0a2c" stroke-width="1"/><polygon points="243.73,219.00 246.78,225.40 240.68,225.40" fill="none" stroke="#ac0a2c" stroke-width="1"/><polygon points="251.58,211.00 254.63,217.40 248.53,217.40" fill="none" stroke="#ac0a2c" stroke-width="1"/><polygon points="259.42,211.60 262.47,218.00 256.37,218.00" fill="none" stroke="#ac0a2c" stroke-width="1"/><polygon points="267.27,207.90 270.32,214.30 264.22,214.30" fill="none" stroke="#ac0a2c" stroke-width="1"/><polygon points="275.11,204.80 278.16,211.20 272.06,211.20" fill="none" stroke="#ac0a2c" stroke-width="1"/><polygon points="282.96,201.20 286.01,207.60 279.91,207.60" fill="none" stroke="#ac0a2c" stroke-width="1"/><polygon points="290.81,194.80 293.86,201.20 287.76,201.20" fill="none" stroke="#ac0a2c" stroke-width="1"/><polygon points="298.65,188.60 301.70,195.00 295.60,195.00" fill="none" stroke="#ac0a2c" stroke-width="1"/><polygon points="306.50,184.20 309.55,190.60 303.45,190.60" fill="none" stroke="#ac0a2c" stroke-width="1"/><polygon points="314.35,176.60 317.40,183.00 311.30,183.00" fill="none" stroke="#ac0a2c" stroke-width="1"/><polygon points="322.19,171.80 325.24,178.20 319.14,178.20" fill="none" stroke="#ac0a2c" stroke-width="1"/><polygon points="330.04,165.40 333.09,171.80 326.99,171.80" fill="none" stroke="#ac0a2c" stroke-width="1"/><polygon points="337.88,157.50 340.93,163.90 334.83,163.90" fill="none" stroke="#ac0a2c" stroke-width="1"/><polygon points="345.73,148.60 348.78,155.00 342.68,155.00" fill="none" stroke="#ac0a2c" stroke-width="1"/><polygon points="353.58,138.80 356.63,145.20 350.53,145.20" fill="none" stroke="#ac0a2c" stroke-width="1"/><polygon points="361.42,128.40 364.47,134.80 358.37,134.80" fill="none" stroke="#ac0a2c" stroke-width="1"/>
<polyline points="55.42,269.16 63.27,260.24 71.12,261.57 78.96,266.63 86.81,257.99 94.65,263.96 102.50,259.12 110.35,262.59 118.19,253.64 126.04,258.62 133.88,259.88 141.73,256.94 149.58,249.91 157.42,260.05 165.27,252.35 173.11,251.66 180.96,245.43 188.81,243.19 196.65,242.12 204.50,239.09 212.35,233.96 220.19,231.04 228.04,231.07 235.88,225.27 243.73,223.44 251.58,220.15 259.42,217.87 267.27,212.65 275.11,209.55 282.96,203.51 290.81,196.21 298.65,195.45 306.50,190.16 314.35,181.63 322.19,176.20 330.04,169.11 337.88,160.16 345.73,152.97 353.58,142.16 361.42,130.24" fill="none" stroke="#6e3c58" stroke-width="1.2" stroke-dasharray="3.5,2,1,2"/><path d="M55.42 265.43V272.89M63.27 256.97V263.52M71.12 258.24V264.91M78.96 263.04V270.22M86.81 254.83V261.16M94.65 260.51V267.42M102.50 255.90V262.34M110.35 259.20V265.97M118.19 250.67V256.61M126.04 255.43V261.82M133.88 256.63V263.14M141.73 253.83V260.06M149.58 247.10V252.72M157.42 256.79V263.31M165.27 249.44V255.26M173.11 248.78V254.55M180.96 242.80V248.07M188.81 240.64V245.73M196.65 239.61V244.62M204.50 236.69V241.49M212.35 231.74V236.19M220.19 228.91V233.17M228.04 228.94V233.20M235.88 223.31V227.23M243.73 221.54V225.35M251.58 218.33V221.96M259.42 216.11V219.63M267.27 211.03V214.28M275.11 208.00V211.11M282.96 202.08V204.93M290.81 194.93V197.49M298.65 194.19V196.72M306.50 188.99V191.33M314.35 180.59V182.66M322.19 175.25V177.16M330.04 168.25V169.96M337.88 159.40V160.91M345.73 152.29V153.64M353.58 141.58V142.73M361.42 129.75V130.73" stroke="#5f2446" stroke-width="1.0" fill="none" stroke-dasharray="2,1.5"/><path d="M53.92 265.43h3.0M53.92 272.89h3.0M61.77 256.97h3.0M61.77 263.52h3.0M69.62 258.24h3.0M69.62 264.91h3.0M77.46 263.04h3.0M77.46 270.22h3.0M93.15 260.51h3.0M93.15 267.42h3.0M101.00 255.90h3.0M101.00 262.34h3.0M108.85 259.20h3.0M108.85 265.97h3.0M132.38 256.63h3.0M132.38 263.14h3.0M155.92 256.79h3.0M155.92 263.31h3.0" stroke="#5f2446" stroke-width="1.0" fill="none"/><rect x="52.92" y="266.66" width="5" height="5" fill="none" stroke="#5f2446" stroke-width="0.95"/><rect x="60.77" y="257.74" width="5" height="5" fill="none" stroke="#5f2446" stroke-width="0.95"/><rect x="68.62" y="259.07" width="5" height="5" fill="none" stroke="#5f2446" stroke-width="0.95"/><rect x="76.46" y="264.13" width="5" height="5" fill="none" stroke="#5f2446" stroke-width="0.95"/><rect x="84.31" y="255.49" width="5" height="5" fill="none" stroke="#5f2446" stroke-width="0.95"/><rect x="92.15" y="261.46" width="5" height="5" fill="none" stroke="#5f2446" stroke-width="0.95"/><rect x="100.00" y="256.62" width="5" height="5" fill="none" stroke="#5f2446" stroke-width="0.95"/><rect x="107.85" y="260.09" width="5" height="5" fill="none" stroke="#5f2446" stroke-width="0.95"/><rect x="115.69" y="251.14" width="5" height="5" fill="none" stroke="#5f2446" stroke-width="0.95"/><rect x="123.54" y="256.12" width="5" height="5" fill="none" stroke="#5f2446" stroke-width="0.95"/><rect x="131.38" y="257.38" width="5" height="5" fill="none" stroke="#5f2446" stroke-width="0.95"/><rect x="139.23" y="254.44" width="5" height="5" fill="none" stroke="#5f2446" stroke-width="0.95"/><rect x="147.08" y="247.41" width="5" height="5" fill="none" stroke="#5f2446" stroke-width="0.95"/><rect x="154.92" y="257.55" width="5" height="5" fill="none" stroke="#5f2446" stroke-width="0.95"/><rect x="162.77" y="249.85" width="5" height="5" fill="none" stroke="#5f2446" stroke-width="0.95"/><rect x="170.61" y="249.16" width="5" height="5" fill="none" stroke="#5f2446" stroke-width="0.95"/><rect x="178.46" y="242.93" width="5" height="5" fill="none" stroke="#5f2446" stroke-width="0.95"/><rect x="186.31" y="240.69" width="5" height="5" fill="none" stroke="#5f2446" stroke-width="0.95"/><rect x="194.15" y="239.62" width="5" height="5" fill="none" stroke="#5f2446" stroke-width="0.95"/><rect x="202.00" y="236.59" width="5" height="5" fill="none" stroke="#5f2446" stroke-width="0.95"/><rect x="209.85" y="231.46" width="5" height="5" fill="none" stroke="#5f2446" stroke-width="0.95"/><rect x="217.69" y="228.54" width="5" height="5" fill="none" stroke="#5f2446" stroke-width="0.95"/><rect x="225.54" y="228.57" width="5" height="5" fill="none" stroke="#5f2446" stroke-width="0.95"/><rect x="233.38" y="222.77" width="5" height="5" fill="none" stroke="#5f2446" stroke-width="0.95"/><rect x="241.23" y="220.94" width="5" height="5" fill="none" stroke="#5f2446" stroke-width="0.95"/><rect x="249.08" y="217.65" width="5" height="5" fill="none" stroke="#5f2446" stroke-width="0.95"/><rect x="256.92" y="215.37" width="5" height="5" fill="none" stroke="#5f2446" stroke-width="0.95"/><rect x="264.77" y="210.15" width="5" height="5" fill="none" stroke="#5f2446" stroke-width="0.95"/><rect x="272.61" y="207.05" width="5" height="5" fill="none" stroke="#5f2446" stroke-width="0.95"/><rect x="280.46" y="201.01" width="5" height="5" fill="none" stroke="#5f2446" stroke-width="0.95"/><rect x="288.31" y="193.71" width="5" height="5" fill="none" stroke="#5f2446" stroke-width="0.95"/><rect x="296.15" y="192.95" width="5" height="5" fill="none" stroke="#5f2446" stroke-width="0.95"/><rect x="304.00" y="187.66" width="5" height="5" fill="none" stroke="#5f2446" stroke-width="0.95"/><rect x="311.85" y="179.13" width="5" height="5" fill="none" stroke="#5f2446" stroke-width="0.95"/><rect x="319.69" y="173.70" width="5" height="5" fill="none" stroke="#5f2446" stroke-width="0.95"/><rect x="327.54" y="166.61" width="5" height="5" fill="none" stroke="#5f2446" stroke-width="0.95"/><rect x="335.38" y="157.66" width="5" height="5" fill="none" stroke="#5f2446" stroke-width="0.95"/><rect x="343.23" y="150.47" width="5" height="5" fill="none" stroke="#5f2446" stroke-width="0.95"/><rect x="351.08" y="139.66" width="5" height="5" fill="none" stroke="#5f2446" stroke-width="0.95"/><rect x="358.92" y="127.74" width="5" height="5" fill="none" stroke="#5f2446" stroke-width="0.95"/>
<polyline points="55.42,263.10 63.27,268.83 71.12,266.70 78.96,267.56 86.81,265.41 94.65,266.29 102.50,273.54 110.35,264.69 118.19,265.73 126.04,270.09 133.88,261.75 141.73,265.43 149.58,263.20 157.42,265.68 165.27,270.73 173.11,256.68 180.96,259.11 188.81,263.34 196.65,259.06 204.50,251.33 212.35,247.93 220.19,244.08 228.04,243.02 235.88,241.32 243.73,235.88 251.58,234.56 259.42,233.03 267.27,227.81 275.11,224.83 282.96,220.95 290.81,212.77 298.65,209.83 306.50,201.08 314.35,193.48 322.19,185.76 330.04,175.91 337.88,166.30 345.73,153.67 353.58,136.33 361.42,115.05" fill="none" stroke="#ff8a3a" stroke-width="1.2" stroke-dasharray="3.5,2,1,2"/><path d="M55.42 259.61V266.58M63.27 265.04V272.63M71.12 263.03V270.38M78.96 263.84V271.28M86.81 261.81V269.02M94.65 262.64V269.95M102.50 269.48V277.60M110.35 261.12V268.26M118.19 262.10V269.35M126.04 266.23V273.95M133.88 258.33V265.17M141.73 261.83V269.04M149.58 259.71V266.69M157.42 262.06V269.30M165.27 266.83V274.63M173.11 253.50V259.85M180.96 255.82V262.40M188.81 259.84V266.83M196.65 255.77V262.35M204.50 248.40V254.27M212.35 245.14V250.73M220.19 241.44V246.72M228.04 240.42V245.62M235.88 238.78V243.85M243.73 233.54V238.22M251.58 232.27V236.86M259.42 230.78V235.27M267.27 225.73V229.89M275.11 222.84V226.82M282.96 219.08V222.83M290.81 211.10V214.43M298.65 208.24V211.43M306.50 199.67V202.48M314.35 192.22V194.74M322.19 184.64V186.89M330.04 174.94V176.88M337.88 165.45V167.14M345.73 152.96V154.37M353.58 135.78V136.87M361.42 114.65V115.44" stroke="#ff7f2a" stroke-width="1.0" fill="none" stroke-dasharray="2,1.5"/><path d="M53.92 259.61h3.0M53.92 266.58h3.0M61.77 265.04h3.0M61.77 272.63h3.0M69.62 263.03h3.0M69.62 270.38h3.0M77.46 263.84h3.0M77.46 271.28h3.0M85.31 261.81h3.0M85.31 269.02h3.0M93.15 262.64h3.0M93.15 269.95h3.0M101.00 269.48h3.0M101.00 277.60h3.0M108.85 261.12h3.0M108.85 268.26h3.0M116.69 262.10h3.0M116.69 269.35h3.0M124.54 266.23h3.0M124.54 273.95h3.0M132.38 258.33h3.0M132.38 265.17h3.0M140.23 261.83h3.0M140.23 269.04h3.0M148.08 259.71h3.0M148.08 266.69h3.0M155.92 262.06h3.0M155.92 269.30h3.0M163.77 266.83h3.0M163.77 274.63h3.0M179.46 255.82h3.0M179.46 262.40h3.0M187.31 259.84h3.0M187.31 266.83h3.0M195.15 255.77h3.0M195.15 262.35h3.0" stroke="#ff7f2a" stroke-width="1.0" fill="none"/><rect x="53.02" y="260.70" width="4.8" height="4.8" rx="1.0" fill="#ff7f2a"/><rect x="60.87" y="266.43" width="4.8" height="4.8" rx="1.0" fill="#ff7f2a"/><rect x="68.72" y="264.30" width="4.8" height="4.8" rx="1.0" fill="#ff7f2a"/><rect x="76.56" y="265.16" width="4.8" height="4.8" rx="1.0" fill="#ff7f2a"/><rect x="84.41" y="263.01" width="4.8" height="4.8" rx="1.0" fill="#ff7f2a"/><rect x="92.25" y="263.89" width="4.8" height="4.8" rx="1.0" fill="#ff7f2a"/><rect x="100.10" y="271.14" width="4.8" height="4.8" rx="1.0" fill="#ff7f2a"/><rect x="107.95" y="262.29" width="4.8" height="4.8" rx="1.0" fill="#ff7f2a"/><rect x="115.79" y="263.33" width="4.8" height="4.8" rx="1.0" fill="#ff7f2a"/><rect x="123.64" y="267.69" width="4.8" height="4.8" rx="1.0" fill="#ff7f2a"/><rect x="131.48" y="259.35" width="4.8" height="4.8" rx="1.0" fill="#ff7f2a"/><rect x="139.33" y="263.03" width="4.8" height="4.8" rx="1.0" fill="#ff7f2a"/><rect x="147.18" y="260.80" width="4.8" height="4.8" rx="1.0" fill="#ff7f2a"/><rect x="155.02" y="263.28" width="4.8" height="4.8" rx="1.0" fill="#ff7f2a"/><rect x="162.87" y="268.33" width="4.8" height="4.8" rx="1.0" fill="#ff7f2a"/><rect x="170.71" y="254.28" width="4.8" height="4.8" rx="1.0" fill="#ff7f2a"/><rect x="178.56" y="256.71" width="4.8" height="4.8" rx="1.0" fill="#ff7f2a"/><rect x="186.41" y="260.94" width="4.8" height="4.8" rx="1.0" fill="#ff7f2a"/><rect x="194.25" y="256.66" width="4.8" height="4.8" rx="1.0" fill="#ff7f2a"/><rect x="202.10" y="248.93" width="4.8" height="4.8" rx="1.0" fill="#ff7f2a"/><rect x="209.95" y="245.53" width="4.8" height="4.8" rx="1.0" fill="#ff7f2a"/><rect x="217.79" y="241.68" width="4.8" height="4.8" rx="1.0" fill="#ff7f2a"/><rect x="225.64" y="240.62" width="4.8" height="4.8" rx="1.0" fill="#ff7f2a"/><rect x="233.48" y="238.92" width="4.8" height="4.8" rx="1.0" fill="#ff7f2a"/><rect x="241.33" y="233.48" width="4.8" height="4.8" rx="1.0" fill="#ff7f2a"/><rect x="249.18" y="232.16" width="4.8" height="4.8" rx="1.0" fill="#ff7f2a"/><rect x="257.02" y="230.63" width="4.8" height="4.8" rx="1.0" fill="#ff7f2a"/><rect x="264.87" y="225.41" width="4.8" height="4.8" rx="1.0" fill="#ff7f2a"/><rect x="272.71" y="222.43" width="4.8" height="4.8" rx="1.0" fill="#ff7f2a"/><rect x="280.56" y="218.55" width="4.8" height="4.8" rx="1.0" fill="#ff7f2a"/><rect x="288.41" y="210.37" width="4.8" height="4.8" rx="1.0" fill="#ff7f2a"/><rect x="296.25" y="207.43" width="4.8" height="4.8" rx="1.0" fill="#ff7f2a"/><rect x="304.10" y="198.68" width="4.8" height="4.8" rx="1.0" fill="#ff7f2a"/><rect x="311.95" y="191.08" width="4.8" height="4.8" rx="1.0" fill="#ff7f2a"/><rect x="319.79" y="183.36" width="4.8" height="4.8" rx="1.0" fill="#ff7f2a"/><rect x="327.64" y="173.51" width="4.8" height="4.8" rx="1.0" fill="#ff7f2a"/><rect x="335.48" y="163.90" width="4.8" height="4.8" rx="1.0" fill="#ff7f2a"/><rect x="343.33" y="151.27" width="4.8" height="4.8" rx="1.0" fill="#ff7f2a"/><rect x="351.18" y="133.93" width="4.8" height="4.8" rx="1.0" fill="#ff7f2a"/><rect x="359.02" y="112.65" width="4.8" height="4.8" rx="1.0" fill="#ff7f2a"/>
<polyline points="55.42,273.40 63.27,260.32 71.12,257.88 78.96,255.44 86.81,258.81 94.65,254.71 102.50,255.08 110.35,247.31 118.19,251.19 126.04,250.11 133.88,244.18 141.73,248.24 149.58,236.58 157.42,238.48 165.27,238.36 173.11,240.94 180.96,234.82 188.81,232.85 196.65,230.38 204.50,226.07 212.35,222.77 220.19,221.01 228.04,218.67 235.88,216.41 243.73,214.04 251.58,207.85 259.42,205.40 267.27,201.42 275.11,195.56 282.96,194.72 290.81,188.32 298.65,186.05 306.50,178.93 314.35,175.56 322.19,167.69 330.04,161.57 337.88,154.37 345.73,145.47 353.58,135.16 361.42,124.76" fill="none" stroke="#2020ff" stroke-width="1.6"/><path d="M55.42 267.75V279.04M63.27 255.66V264.98M71.12 253.39V262.37M78.96 251.10V259.77M86.81 254.25V263.36M94.65 250.42V259.00M102.50 250.77V259.39M110.35 243.47V251.16M118.19 247.12V255.27M126.04 246.10V254.12M133.88 240.51V247.86M141.73 244.34V252.14M149.58 233.29V239.87M157.42 235.10V241.86M165.27 234.98V241.73M173.11 237.43V244.44M180.96 231.62V238.03M188.81 229.74V235.96M196.65 227.38V233.38M204.50 223.25V228.89M212.35 220.09V225.46M220.19 218.40V223.63M228.04 216.14V221.20M235.88 213.96V218.85M243.73 211.68V216.40M251.58 205.69V210.00M259.42 203.31V207.48M267.27 199.46V203.39M275.11 193.76V197.37M282.96 192.94V196.50M290.81 186.70V189.94M298.65 184.48V187.62M306.50 177.52V180.34M314.35 174.22V176.91M322.19 166.50V168.89M330.04 160.47V162.66M337.88 153.38V155.35M345.73 144.60V146.33M353.58 134.42V135.90M361.42 124.12V125.40" stroke="#0000e0" stroke-width="1.0" fill="none"/><path d="M53.92 267.75h3.0M53.92 279.04h3.0M61.77 255.66h3.0M61.77 264.98h3.0M69.62 253.39h3.0M69.62 262.37h3.0M77.46 251.10h3.0M77.46 259.77h3.0M85.31 254.25h3.0M85.31 263.36h3.0M93.15 250.42h3.0M93.15 259.00h3.0M101.00 250.77h3.0M101.00 259.39h3.0M108.85 243.47h3.0M108.85 251.16h3.0M116.69 247.12h3.0M116.69 255.27h3.0M124.54 246.10h3.0M124.54 254.12h3.0M132.38 240.51h3.0M132.38 247.86h3.0M140.23 244.34h3.0M140.23 252.14h3.0M148.08 233.29h3.0M148.08 239.87h3.0M155.92 235.10h3.0M155.92 241.86h3.0M163.77 234.98h3.0M163.77 241.73h3.0M171.61 237.43h3.0M171.61 244.44h3.0M179.46 231.62h3.0M179.46 238.03h3.0" stroke="#0000e0" stroke-width="1.0" fill="none"/><polygon points="55.42,270.73 58.32,276.06 52.52,276.06" fill="#0000e0"/><polygon points="63.27,257.65 66.17,262.99 60.37,262.99" fill="#0000e0"/><polygon points="71.12,255.21 74.02,260.55 68.22,260.55" fill="#0000e0"/><polygon points="78.96,252.77 81.86,258.10 76.06,258.10" fill="#0000e0"/><polygon points="86.81,256.14 89.71,261.48 83.91,261.48" fill="#0000e0"/><polygon points="94.65,252.04 97.55,257.38 91.75,257.38" fill="#0000e0"/><polygon points="102.50,252.41 105.40,257.75 99.60,257.75" fill="#0000e0"/><polygon points="110.35,244.65 113.25,249.98 107.45,249.98" fill="#0000e0"/><polygon points="118.19,248.52 121.09,253.86 115.29,253.86" fill="#0000e0"/><polygon points="126.04,247.45 128.94,252.78 123.14,252.78" fill="#0000e0"/><polygon points="133.88,241.52 136.78,246.85 130.98,246.85" fill="#0000e0"/><polygon points="141.73,245.57 144.63,250.91 138.83,250.91" fill="#0000e0"/><polygon points="149.58,233.91 152.48,239.25 146.68,239.25" fill="#0000e0"/><polygon points="157.42,235.81 160.32,241.15 154.52,241.15" fill="#0000e0"/><polygon points="165.27,235.69 168.17,241.03 162.37,241.03" fill="#0000e0"/><polygon points="173.11,238.27 176.01,243.61 170.21,243.61" fill="#0000e0"/><polygon points="180.96,232.16 183.86,237.49 178.06,237.49" fill="#0000e0"/><polygon points="188.81,230.18 191.71,235.52 185.91,235.52" fill="#0000e0"/><polygon points="196.65,227.71 199.55,233.05 193.75,233.05" fill="#0000e0"/><polygon points="204.50,223.40 207.40,228.74 201.60,228.74" fill="#0000e0"/><polygon points="212.35,220.10 215.25,225.44 209.45,225.44" fill="#0000e0"/><polygon points="220.19,218.34 223.09,223.68 217.29,223.68" fill="#0000e0"/><polygon points="228.04,216.01 230.94,221.34 225.14,221.34" fill="#0000e0"/><polygon points="235.88,213.74 238.78,219.07 232.98,219.07" fill="#0000e0"/><polygon points="243.73,211.37 246.63,216.71 240.83,216.71" fill="#0000e0"/><polygon points="251.58,205.18 254.48,210.51 248.68,210.51" fill="#0000e0"/><polygon points="259.42,202.73 262.32,208.06 256.52,208.06" fill="#0000e0"/><polygon points="267.27,198.76 270.17,204.09 264.37,204.09" fill="#0000e0"/><polygon points="275.11,192.90 278.01,198.23 272.21,198.23" fill="#0000e0"/><polygon points="282.96,192.06 285.86,197.39 280.06,197.39" fill="#0000e0"/><polygon points="290.81,185.66 293.71,190.99 287.91,190.99" fill="#0000e0"/><polygon points="298.65,183.38 301.55,188.72 295.75,188.72" fill="#0000e0"/><polygon points="306.50,176.26 309.40,181.60 303.60,181.60" fill="#0000e0"/><polygon points="314.35,172.90 317.25,178.23 311.45,178.23" fill="#0000e0"/><polygon points="322.19,165.03 325.09,170.36 319.29,170.36" fill="#0000e0"/><polygon points="330.04,158.90 332.94,164.23 327.14,164.23" fill="#0000e0"/><polygon points="337.88,151.70 340.78,157.03 334.98,157.03" fill="#0000e0"/><polygon points="345.73,142.80 348.63,148.13 342.83,148.13" fill="#0000e0"/><polygon points="353.58,132.49 356.48,137.83 350.68,137.83" fill="#0000e0"/><polygon points="361.42,122.09 364.32,127.43 358.52,127.43" fill="#0000e0"/>
</g>
<g clip-path="url(#cr)">
<polyline points="55.42,422.20 63.27,416.50 71.12,396.50 78.96,414.40 86.81,386.00 94.65,416.80 102.50,414.90 110.35,423.30 118.19,390.50 126.04,407.70 133.88,418.40 141.73,421.90 149.58,403.80 157.42,425.00 165.27,419.60 173.11,409.60 180.96,400.00 188.81,409.40 196.65,399.70 204.50,412.50 212.35,407.80 220.19,397.70 228.04,405.50 235.88,397.00 243.73,400.80 251.58,412.90 259.42,405.50 267.27,401.60 275.11,401.60 282.96,395.30 290.81,393.00 298.65,407.00 306.50,404.70 314.35,402.30 322.19,400.70 330.04,398.90 337.88,396.20 345.73,400.60 353.58,398.00 361.42,394.10" fill="none" stroke="#6e3c58" stroke-width="1.2" stroke-dasharray="3.5,2,1,2"/><path d="M55.42 412.61V431.79M63.27 408.08V424.92M71.12 387.92V405.08M78.96 405.16V423.64M86.81 377.86V394.14M94.65 407.91V425.69M102.50 406.62V423.18M110.35 414.59V432.01M118.19 382.86V398.14M126.04 399.48V415.92M133.88 410.03V426.77M141.73 413.88V429.92M149.58 396.57V411.03M157.42 416.61V433.39M165.27 412.10V427.10M173.11 402.18V417.02M180.96 393.23V406.77M188.81 402.85V415.95M196.65 393.25V406.15M204.50 406.33V418.67M212.35 402.07V413.53M220.19 392.21V403.19M228.04 400.01V410.99M235.88 391.96V402.04M243.73 395.89V405.71M251.58 408.22V417.58M259.42 400.98V410.02M267.27 397.41V405.79M275.11 397.60V405.60M282.96 391.64V398.96M290.81 389.71V396.29M298.65 403.75V410.25M306.50 401.69V407.71M314.35 399.64V404.96M322.19 398.25V403.15M330.04 396.69V401.11M337.88 394.26V398.14M345.73 398.85V402.35M353.58 396.51V399.49M361.42 392.85V395.35" stroke="#5f2446" stroke-width="1.0" fill="none" stroke-dasharray="2,1.5"/><path d="M53.92 412.61h3.0M53.92 431.79h3.0M61.77 408.08h3.0M61.77 424.92h3.0M69.62 387.92h3.0M69.62 405.08h3.0M77.46 405.16h3.0M77.46 423.64h3.0M85.31 377.86h3.0M85.31 394.14h3.0M93.15 407.91h3.0M93.15 425.69h3.0M101.00 406.62h3.0M101.00 423.18h3.0M108.85 414.59h3.0M108.85 432.01h3.0M116.69 382.86h3.0M116.69 398.14h3.0M124.54 399.48h3.0M124.54 415.92h3.0M132.38 410.03h3.0M132.38 426.77h3.0M140.23 413.88h3.0M140.23 429.92h3.0M148.08 396.57h3.0M148.08 411.03h3.0M155.92 416.61h3.0M155.92 433.39h3.0M163.77 412.10h3.0M163.77 427.10h3.0M171.61 402.18h3.0M171.61 417.02h3.0M179.46 393.23h3.0M179.46 406.77h3.0M187.31 402.85h3.0M187.31 415.95h3.0M195.15 393.25h3.0M195.15 406.15h3.0M203.00 406.33h3.0M203.00 418.67h3.0M210.85 402.07h3.0M210.85 413.53h3.0M218.69 392.21h3.0M218.69 403.19h3.0M226.54 400.01h3.0M226.54 410.99h3.0M234.38 391.96h3.0M234.38 402.04h3.0M242.23 395.89h3.0M242.23 405.71h3.0M250.08 408.22h3.0M250.08 417.58h3.0M257.92 400.98h3.0M257.92 410.02h3.0M265.77 397.41h3.0M265.77 405.79h3.0M273.61 397.60h3.0M273.61 405.60h3.0M281.46 391.64h3.0M281.46 398.96h3.0M289.31 389.71h3.0M289.31 396.29h3.0M297.15 403.75h3.0M297.15 410.25h3.0" stroke="#5f2446" stroke-width="1.0" fill="none"/><rect x="52.92" y="419.70" width="5" height="5" fill="none" stroke="#5f2446" stroke-width="0.95"/><rect x="60.77" y="414.00" width="5" height="5" fill="none" stroke="#5f2446" stroke-width="0.95"/><rect x="68.62" y="394.00" width="5" height="5" fill="none" stroke="#5f2446" stroke-width="0.95"/><rect x="76.46" y="411.90" width="5" height="5" fill="none" stroke="#5f2446" stroke-width="0.95"/><rect x="84.31" y="383.50" width="5" height="5" fill="none" stroke="#5f2446" stroke-width="0.95"/><rect x="92.15" y="414.30" width="5" height="5" fill="none" stroke="#5f2446" stroke-width="0.95"/><rect x="100.00" y="412.40" width="5" height="5" fill="none" stroke="#5f2446" stroke-width="0.95"/><rect x="107.85" y="420.80" width="5" height="5" fill="none" stroke="#5f2446" stroke-width="0.95"/><rect x="115.69" y="388.00" width="5" height="5" fill="none" stroke="#5f2446" stroke-width="0.95"/><rect x="123.54" y="405.20" width="5" height="5" fill="none" stroke="#5f2446" stroke-width="0.95"/><rect x="131.38" y="415.90" width="5" height="5" fill="none" stroke="#5f2446" stroke-width="0.95"/><rect x="139.23" y="419.40" width="5" height="5" fill="none" stroke="#5f2446" stroke-width="0.95"/><rect x="147.08" y="401.30" width="5" height="5" fill="none" stroke="#5f2446" stroke-width="0.95"/><rect x="154.92" y="422.50" width="5" height="5" fill="none" stroke="#5f2446" stroke-width="0.95"/><rect x="162.77" y="417.10" width="5" height="5" fill="none" stroke="#5f2446" stroke-width="0.95"/><rect x="170.61" y="407.10" width="5" height="5" fill="none" stroke="#5f2446" stroke-width="0.95"/><rect x="178.46" y="397.50" width="5" height="5" fill="none" stroke="#5f2446" stroke-width="0.95"/><rect x="186.31" y="406.90" width="5" height="5" fill="none" stroke="#5f2446" stroke-width="0.95"/><rect x="194.15" y="397.20" width="5" height="5" fill="none" stroke="#5f2446" stroke-width="0.95"/><rect x="202.00" y="410.00" width="5" height="5" fill="none" stroke="#5f2446" stroke-width="0.95"/><rect x="209.85" y="405.30" width="5" height="5" fill="none" stroke="#5f2446" stroke-width="0.95"/><rect x="217.69" y="395.20" width="5" height="5" fill="none" stroke="#5f2446" stroke-width="0.95"/><rect x="225.54" y="403.00" width="5" height="5" fill="none" stroke="#5f2446" stroke-width="0.95"/><rect x="233.38" y="394.50" width="5" height="5" fill="none" stroke="#5f2446" stroke-width="0.95"/><rect x="241.23" y="398.30" width="5" height="5" fill="none" stroke="#5f2446" stroke-width="0.95"/><rect x="249.08" y="410.40" width="5" height="5" fill="none" stroke="#5f2446" stroke-width="0.95"/><rect x="256.92" y="403.00" width="5" height="5" fill="none" stroke="#5f2446" stroke-width="0.95"/><rect x="264.77" y="399.10" width="5" height="5" fill="none" stroke="#5f2446" stroke-width="0.95"/><rect x="272.61" y="399.10" width="5" height="5" fill="none" stroke="#5f2446" stroke-width="0.95"/><rect x="280.46" y="392.80" width="5" height="5" fill="none" stroke="#5f2446" stroke-width="0.95"/><rect x="288.31" y="390.50" width="5" height="5" fill="none" stroke="#5f2446" stroke-width="0.95"/><rect x="296.15" y="404.50" width="5" height="5" fill="none" stroke="#5f2446" stroke-width="0.95"/><rect x="304.00" y="402.20" width="5" height="5" fill="none" stroke="#5f2446" stroke-width="0.95"/><rect x="311.85" y="399.80" width="5" height="5" fill="none" stroke="#5f2446" stroke-width="0.95"/><rect x="319.69" y="398.20" width="5" height="5" fill="none" stroke="#5f2446" stroke-width="0.95"/><rect x="327.54" y="396.40" width="5" height="5" fill="none" stroke="#5f2446" stroke-width="0.95"/><rect x="335.38" y="393.70" width="5" height="5" fill="none" stroke="#5f2446" stroke-width="0.95"/><rect x="343.23" y="398.10" width="5" height="5" fill="none" stroke="#5f2446" stroke-width="0.95"/><rect x="351.08" y="395.50" width="5" height="5" fill="none" stroke="#5f2446" stroke-width="0.95"/><rect x="358.92" y="391.60" width="5" height="5" fill="none" stroke="#5f2446" stroke-width="0.95"/>
<polyline points="55.42,406.60 63.27,438.60 71.12,409.70 78.96,416.80 86.81,405.10 94.65,422.80 102.50,452.00 110.35,428.70 118.19,421.60 126.04,437.20 133.88,423.20 141.73,443.75 149.58,438.00 157.42,439.50 165.27,466.90 173.11,422.50 180.96,435.20 188.81,461.25 196.65,443.30 204.50,444.00 212.35,443.75 220.19,431.25 228.04,436.25 235.88,438.30 243.73,432.80 251.58,450.00 259.42,444.50 267.27,440.60 275.11,440.90 282.96,440.20 290.81,435.60 298.65,444.00 306.50,432.80 314.35,432.80 322.19,425.30 330.04,416.40 337.88,412.00 345.73,402.40 353.58,383.00 361.42,355.00" fill="none" stroke="#ff8a3a" stroke-width="1.2" stroke-dasharray="3.5,2,1,2"/><path d="M55.42 397.63V415.57M63.27 428.84V448.36M71.12 400.24V419.16M78.96 407.22V426.38M86.81 395.82V414.38M94.65 413.40V432.20M102.50 441.54V462.46M110.35 419.52V437.88M118.19 412.27V430.93M126.04 427.26V447.14M133.88 414.40V432.00M141.73 434.46V453.04M149.58 429.01V446.99M157.42 430.18V448.82M165.27 456.86V476.94M173.11 414.33V430.67M180.96 426.74V443.66M188.81 452.25V470.25M196.65 434.84V451.76M204.50 436.45V451.55M212.35 436.57V450.93M220.19 424.46V438.04M228.04 429.57V442.93M235.88 431.78V444.82M243.73 426.78V438.82M251.58 444.10V455.90M259.42 438.73V450.27M267.27 435.25V445.95M275.11 435.78V446.02M282.96 435.36V445.04M290.81 431.31V439.89M298.65 439.89V448.11M306.50 429.19V436.41M314.35 429.57V436.03M322.19 422.41V428.19M330.04 413.90V418.90M337.88 409.83V414.17M345.73 400.60V404.20M353.58 381.60V384.40M361.42 353.98V356.02" stroke="#ff7f2a" stroke-width="1.0" fill="none" stroke-dasharray="2,1.5"/><path d="M53.92 397.63h3.0M53.92 415.57h3.0M61.77 428.84h3.0M61.77 448.36h3.0M69.62 400.24h3.0M69.62 419.16h3.0M77.46 407.22h3.0M77.46 426.38h3.0M85.31 395.82h3.0M85.31 414.38h3.0M93.15 413.40h3.0M93.15 432.20h3.0M101.00 441.54h3.0M101.00 462.46h3.0M108.85 419.52h3.0M108.85 437.88h3.0M116.69 412.27h3.0M116.69 430.93h3.0M124.54 427.26h3.0M124.54 447.14h3.0M132.38 414.40h3.0M132.38 432.00h3.0M140.23 434.46h3.0M140.23 453.04h3.0M148.08 429.01h3.0M148.08 446.99h3.0M155.92 430.18h3.0M155.92 448.82h3.0M163.77 456.86h3.0M163.77 476.94h3.0M171.61 414.33h3.0M171.61 430.67h3.0M179.46 426.74h3.0M179.46 443.66h3.0M187.31 452.25h3.0M187.31 470.25h3.0M195.15 434.84h3.0M195.15 451.76h3.0M203.00 436.45h3.0M203.00 451.55h3.0M210.85 436.57h3.0M210.85 450.93h3.0M218.69 424.46h3.0M218.69 438.04h3.0M226.54 429.57h3.0M226.54 442.93h3.0M234.38 431.78h3.0M234.38 444.82h3.0M242.23 426.78h3.0M242.23 438.82h3.0M250.08 444.10h3.0M250.08 455.90h3.0M257.92 438.73h3.0M257.92 450.27h3.0M265.77 435.25h3.0M265.77 445.95h3.0M273.61 435.78h3.0M273.61 446.02h3.0M281.46 435.36h3.0M281.46 445.04h3.0M289.31 431.31h3.0M289.31 439.89h3.0M297.15 439.89h3.0M297.15 448.11h3.0M305.00 429.19h3.0M305.00 436.41h3.0M312.85 429.57h3.0M312.85 436.03h3.0" stroke="#ff7f2a" stroke-width="1.0" fill="none"/><rect x="53.02" y="404.20" width="4.8" height="4.8" rx="1.0" fill="#ff7f2a"/><rect x="60.87" y="436.20" width="4.8" height="4.8" rx="1.0" fill="#ff7f2a"/><rect x="68.72" y="407.30" width="4.8" height="4.8" rx="1.0" fill="#ff7f2a"/><rect x="76.56" y="414.40" width="4.8" height="4.8" rx="1.0" fill="#ff7f2a"/><rect x="84.41" y="402.70" width="4.8" height="4.8" rx="1.0" fill="#ff7f2a"/><rect x="92.25" y="420.40" width="4.8" height="4.8" rx="1.0" fill="#ff7f2a"/><rect x="100.10" y="449.60" width="4.8" height="4.8" rx="1.0" fill="#ff7f2a"/><rect x="107.95" y="426.30" width="4.8" height="4.8" rx="1.0" fill="#ff7f2a"/><rect x="115.79" y="419.20" width="4.8" height="4.8" rx="1.0" fill="#ff7f2a"/><rect x="123.64" y="434.80" width="4.8" height="4.8" rx="1.0" fill="#ff7f2a"/><rect x="131.48" y="420.80" width="4.8" height="4.8" rx="1.0" fill="#ff7f2a"/><rect x="139.33" y="441.35" width="4.8" height="4.8" rx="1.0" fill="#ff7f2a"/><rect x="147.18" y="435.60" width="4.8" height="4.8" rx="1.0" fill="#ff7f2a"/><rect x="155.02" y="437.10" width="4.8" height="4.8" rx="1.0" fill="#ff7f2a"/><rect x="162.87" y="464.50" width="4.8" height="4.8" rx="1.0" fill="#ff7f2a"/><rect x="170.71" y="420.10" width="4.8" height="4.8" rx="1.0" fill="#ff7f2a"/><rect x="178.56" y="432.80" width="4.8" height="4.8" rx="1.0" fill="#ff7f2a"/><rect x="186.41" y="458.85" width="4.8" height="4.8" rx="1.0" fill="#ff7f2a"/><rect x="194.25" y="440.90" width="4.8" height="4.8" rx="1.0" fill="#ff7f2a"/><rect x="202.10" y="441.60" width="4.8" height="4.8" rx="1.0" fill="#ff7f2a"/><rect x="209.95" y="441.35" width="4.8" height="4.8" rx="1.0" fill="#ff7f2a"/><rect x="217.79" y="428.85" width="4.8" height="4.8" rx="1.0" fill="#ff7f2a"/><rect x="225.64" y="433.85" width="4.8" height="4.8" rx="1.0" fill="#ff7f2a"/><rect x="233.48" y="435.90" width="4.8" height="4.8" rx="1.0" fill="#ff7f2a"/><rect x="241.33" y="430.40" width="4.8" height="4.8" rx="1.0" fill="#ff7f2a"/><rect x="249.18" y="447.60" width="4.8" height="4.8" rx="1.0" fill="#ff7f2a"/><rect x="257.02" y="442.10" width="4.8" height="4.8" rx="1.0" fill="#ff7f2a"/><rect x="264.87" y="438.20" width="4.8" height="4.8" rx="1.0" fill="#ff7f2a"/><rect x="272.71" y="438.50" width="4.8" height="4.8" rx="1.0" fill="#ff7f2a"/><rect x="280.56" y="437.80" width="4.8" height="4.8" rx="1.0" fill="#ff7f2a"/><rect x="288.41" y="433.20" width="4.8" height="4.8" rx="1.0" fill="#ff7f2a"/><rect x="296.25" y="441.60" width="4.8" height="4.8" rx="1.0" fill="#ff7f2a"/><rect x="304.10" y="430.40" width="4.8" height="4.8" rx="1.0" fill="#ff7f2a"/><rect x="311.95" y="430.40" width="4.8" height="4.8" rx="1.0" fill="#ff7f2a"/><rect x="319.79" y="422.90" width="4.8" height="4.8" rx="1.0" fill="#ff7f2a"/><rect x="327.64" y="414.00" width="4.8" height="4.8" rx="1.0" fill="#ff7f2a"/><rect x="335.48" y="409.60" width="4.8" height="4.8" rx="1.0" fill="#ff7f2a"/><rect x="343.33" y="400.00" width="4.8" height="4.8" rx="1.0" fill="#ff7f2a"/><rect x="351.18" y="380.60" width="4.8" height="4.8" rx="1.0" fill="#ff7f2a"/><rect x="359.02" y="352.60" width="4.8" height="4.8" rx="1.0" fill="#ff7f2a"/>
<polyline points="55.42,433.10 63.27,416.70 71.12,387.00 78.96,385.60 86.81,388.10 94.65,393.00 102.50,404.50 110.35,384.00 118.19,384.20 126.04,385.80 133.88,378.00 141.73,399.50 149.58,369.50 157.42,369.50 165.27,383.60 173.11,382.00 180.96,372.70 188.81,382.80 196.65,369.50 204.50,379.00 212.35,379.00 220.19,371.90 228.04,373.60 235.88,374.20 243.73,376.60 251.58,381.25 259.42,373.40 267.27,372.70 275.11,365.60 282.96,372.70 290.81,372.70 298.65,382.80 306.50,375.80 314.35,386.70 322.19,378.80 330.04,379.50 337.88,381.30 345.73,381.30 353.58,380.00 361.42,380.00" fill="none" stroke="#2020ff" stroke-width="1.6"/><path d="M55.42 418.58V447.62M63.27 404.71V428.69M71.12 375.44V398.56M78.96 374.44V396.76M86.81 376.38V399.82M94.65 381.96V404.04M102.50 393.40V415.60M110.35 374.10V393.90M118.19 373.72V394.68M126.04 375.48V396.12M133.88 368.54V387.46M141.73 389.46V409.54M149.58 361.04V377.96M157.42 360.80V378.20M165.27 374.91V392.29M173.11 372.98V391.02M180.96 364.45V380.95M188.81 374.79V390.81M196.65 361.77V377.23M204.50 371.75V386.25M212.35 372.09V385.91M220.19 365.17V378.63M228.04 367.09V380.11M235.88 367.91V380.49M243.73 370.52V382.68M251.58 375.70V386.80M259.42 368.04V378.76M267.27 367.65V377.75M275.11 360.96V370.24M282.96 368.12V377.28M290.81 368.53V376.87M298.65 378.77V386.83M306.50 372.17V379.43M314.35 383.24V390.16M322.19 375.72V381.88M330.04 376.68V382.32M337.88 378.77V383.83M345.73 379.08V383.52M353.58 378.09V381.91M361.42 378.36V381.64" stroke="#0000e0" stroke-width="1.0" fill="none"/><path d="M53.92 418.58h3.0M53.92 447.62h3.0M61.77 404.71h3.0M61.77 428.69h3.0M69.62 375.44h3.0M69.62 398.56h3.0M77.46 374.44h3.0M77.46 396.76h3.0M85.31 376.38h3.0M85.31 399.82h3.0M93.15 381.96h3.0M93.15 404.04h3.0M101.00 393.40h3.0M101.00 415.60h3.0M108.85 374.10h3.0M108.85 393.90h3.0M116.69 373.72h3.0M116.69 394.68h3.0M124.54 375.48h3.0M124.54 396.12h3.0M132.38 368.54h3.0M132.38 387.46h3.0M140.23 389.46h3.0M140.23 409.54h3.0M148.08 361.04h3.0M148.08 377.96h3.0M155.92 360.80h3.0M155.92 378.20h3.0M163.77 374.91h3.0M163.77 392.29h3.0M171.61 372.98h3.0M171.61 391.02h3.0M179.46 364.45h3.0M179.46 380.95h3.0M187.31 374.79h3.0M187.31 390.81h3.0M195.15 361.77h3.0M195.15 377.23h3.0M203.00 371.75h3.0M203.00 386.25h3.0M210.85 372.09h3.0M210.85 385.91h3.0M218.69 365.17h3.0M218.69 378.63h3.0M226.54 367.09h3.0M226.54 380.11h3.0M234.38 367.91h3.0M234.38 380.49h3.0M242.23 370.52h3.0M242.23 382.68h3.0M250.08 375.70h3.0M250.08 386.80h3.0M257.92 368.04h3.0M257.92 378.76h3.0M265.77 367.65h3.0M265.77 377.75h3.0M273.61 360.96h3.0M273.61 370.24h3.0M281.46 368.12h3.0M281.46 377.28h3.0M289.31 368.53h3.0M289.31 376.87h3.0M297.15 378.77h3.0M297.15 386.83h3.0M305.00 372.17h3.0M305.00 379.43h3.0M312.85 383.24h3.0M312.85 390.16h3.0" stroke="#0000e0" stroke-width="1.0" fill="none"/><polygon points="55.42,430.43 58.32,435.77 52.52,435.77" fill="#0000e0"/><polygon points="63.27,414.03 66.17,419.37 60.37,419.37" fill="#0000e0"/><polygon points="71.12,384.33 74.02,389.67 68.22,389.67" fill="#0000e0"/><polygon points="78.96,382.93 81.86,388.27 76.06,388.27" fill="#0000e0"/><polygon points="86.81,385.43 89.71,390.77 83.91,390.77" fill="#0000e0"/><polygon points="94.65,390.33 97.55,395.67 91.75,395.67" fill="#0000e0"/><polygon points="102.50,401.83 105.40,407.17 99.60,407.17" fill="#0000e0"/><polygon points="110.35,381.33 113.25,386.67 107.45,386.67" fill="#0000e0"/><polygon points="118.19,381.53 121.09,386.87 115.29,386.87" fill="#0000e0"/><polygon points="126.04,383.13 128.94,388.47 123.14,388.47" fill="#0000e0"/><polygon points="133.88,375.33 136.78,380.67 130.98,380.67" fill="#0000e0"/><polygon points="141.73,396.83 144.63,402.17 138.83,402.17" fill="#0000e0"/><polygon points="149.58,366.83 152.48,372.17 146.68,372.17" fill="#0000e0"/><polygon points="157.42,366.83 160.32,372.17 154.52,372.17" fill="#0000e0"/><polygon points="165.27,380.93 168.17,386.27 162.37,386.27" fill="#0000e0"/><polygon points="173.11,379.33 176.01,384.67 170.21,384.67" fill="#0000e0"/><polygon points="180.96,370.03 183.86,375.37 178.06,375.37" fill="#0000e0"/><polygon points="188.81,380.13 191.71,385.47 185.91,385.47" fill="#0000e0"/><polygon points="196.65,366.83 199.55,372.17 193.75,372.17" fill="#0000e0"/><polygon points="204.50,376.33 207.40,381.67 201.60,381.67" fill="#0000e0"/><polygon points="212.35,376.33 215.25,381.67 209.45,381.67" fill="#0000e0"/><polygon points="220.19,369.23 223.09,374.57 217.29,374.57" fill="#0000e0"/><polygon points="228.04,370.93 230.94,376.27 225.14,376.27" fill="#0000e0"/><polygon points="235.88,371.53 238.78,376.87 232.98,376.87" fill="#0000e0"/><polygon points="243.73,373.93 246.63,379.27 240.83,379.27" fill="#0000e0"/><polygon points="251.58,378.58 254.48,383.92 248.68,383.92" fill="#0000e0"/><polygon points="259.42,370.73 262.32,376.07 256.52,376.07" fill="#0000e0"/><polygon points="267.27,370.03 270.17,375.37 264.37,375.37" fill="#0000e0"/><polygon points="275.11,362.93 278.01,368.27 272.21,368.27" fill="#0000e0"/><polygon points="282.96,370.03 285.86,375.37 280.06,375.37" fill="#0000e0"/><polygon points="290.81,370.03 293.71,375.37 287.91,375.37" fill="#0000e0"/><polygon points="298.65,380.13 301.55,385.47 295.75,385.47" fill="#0000e0"/><polygon points="306.50,373.13 309.40,378.47 303.60,378.47" fill="#0000e0"/><polygon points="314.35,384.03 317.25,389.37 311.45,389.37" fill="#0000e0"/><polygon points="322.19,376.13 325.09,381.47 319.29,381.47" fill="#0000e0"/><polygon points="330.04,376.83 332.94,382.17 327.14,382.17" fill="#0000e0"/><polygon points="337.88,378.63 340.78,383.97 334.98,383.97" fill="#0000e0"/><polygon points="345.73,378.63 348.63,383.97 342.83,383.97" fill="#0000e0"/><polygon points="353.58,377.33 356.48,382.67 350.68,382.67" fill="#0000e0"/><polygon points="361.42,377.33 364.32,382.67 358.52,382.67" fill="#0000e0"/>
</g></svg>
<path d="M45.5 17.5H371.0V477.5H45.5Z" fill="none" stroke="#000" stroke-width="1.45"/><path d="M45.5 317.5H371.0" fill="none" stroke="#000" stroke-width="1.3"/>
<line x1="64" y1="62.0" x2="89" y2="62.0" stroke="#a8102e" stroke-width="1.15" stroke-opacity="0.8"/>
<polygon points="76.50,58.80 79.55,65.20 73.45,65.20" fill="none" stroke="#ac0a2c" stroke-width="1"/>
<text x="94.5" y="64.9" font-size="9.4" fill="#1a1a1a">Pythia 6.428 370</text>
<line x1="64" y1="75.1" x2="89" y2="75.1" stroke="#6e3c58" stroke-width="1.15" stroke-opacity="0.8" stroke-dasharray="3.5,2,1,2"/>
<rect x="74.00" y="72.60" width="5" height="5" fill="none" stroke="#5f2446" stroke-width="0.95"/>
<text x="94.5" y="78.0" font-size="9.4" fill="#1a1a1a">Pythia 6.428 391</text>
<line x1="64" y1="88.2" x2="89" y2="88.2" stroke="#ff8a3a" stroke-width="1.15" stroke-opacity="0.8" stroke-dasharray="3.5,2,1,2"/>
<rect x="74.35" y="86.05" width="4.3" height="4.3" rx="1.0" fill="#ff7f2a"/>
<text x="94.5" y="91.1" font-size="9.4" fill="#1a1a1a">Pythia 6.428 default</text>
<line x1="64" y1="101.3" x2="89" y2="101.3" stroke="#2020ff" stroke-width="1.15" stroke-opacity="0.8"/>
<polygon points="76.50,98.72 79.30,103.88 73.70,103.88" fill="#0000e0"/>
<text x="94.5" y="104.2" font-size="9.4" fill="#1a1a1a">Pythia 8.315 default</text>
<text x="51" y="14.6" font-size="12.1" text-anchor="start" fill="#111">7000 GeV pp</text>
<text x="367.8" y="13.8" font-size="12.2" text-anchor="end" fill="#111">Top (parton level)</text>
<text x="147.5" y="43.2" font-size="9.9" text-anchor="start" fill="#1a1a1a">&#916;&#981; (ttbar) (Mtt &lt; 450 dy &gt; 0)</text>
<text x="207.5" y="301.5" font-size="7.75" text-anchor="middle" fill="#a4a4a4">(MC_FBA_TTBAR)</text>
<text x="24.0" y="33.9" font-size="10.0" text-anchor="start" fill="#000">10</text>
<text x="33.6" y="29.4" font-size="8.3" text-anchor="start" fill="#000">3</text>
<text x="24.0" y="112.7" font-size="10.2" text-anchor="start" fill="#000">10</text>
<text x="35.2" y="107.9" font-size="8.3" text-anchor="start" fill="#000">2</text>
<text x="40" y="189.8" font-size="11" text-anchor="end" fill="#000">10</text>
<text x="40" y="268.8" font-size="11" text-anchor="end" fill="#000">1</text>
<text x="38.2" y="340.8" font-size="11" text-anchor="end" fill="#000">2</text>
<text x="39.2" y="401.5" font-size="11" text-anchor="end" fill="#000">1</text>
<text x="38.6" y="462" font-size="11" text-anchor="end" fill="#000" letter-spacing="0.5">0.5</text>
<text x="374" y="340.8" font-size="11" text-anchor="start" fill="#000">2</text>
<text x="374" y="401.5" font-size="11" text-anchor="start" fill="#000">1</text>
<text x="374" y="462" font-size="11" text-anchor="start" fill="#000" letter-spacing="0.5">0.5</text>
<text x="51.3" y="489.3" font-size="11.5" text-anchor="middle" fill="#000">0</text>
<text x="151.6" y="489.3" font-size="11.5" text-anchor="middle" fill="#000">1</text>
<text x="251.2" y="489.3" font-size="11.5" text-anchor="middle" fill="#000">2</text>
<text x="350.8" y="489.3" font-size="11.5" text-anchor="middle" fill="#000">3</text>
<text transform="translate(17.2,446.3) rotate(-90) scale(0.92,1)" font-size="9.75" fill="#111">Ratio to Pythia 6.428 370</text>
<text transform="translate(380,127.8) rotate(-90)" font-size="9.6" fill="#777">Rivet 4.1.0, &#8805; 100k events</text>
<text transform="translate(381,314.8) rotate(-90)" font-size="9.65" fill="#777">mcplots.cern.ch [arXiv:1306.3436]</text>
</svg></body></html>
